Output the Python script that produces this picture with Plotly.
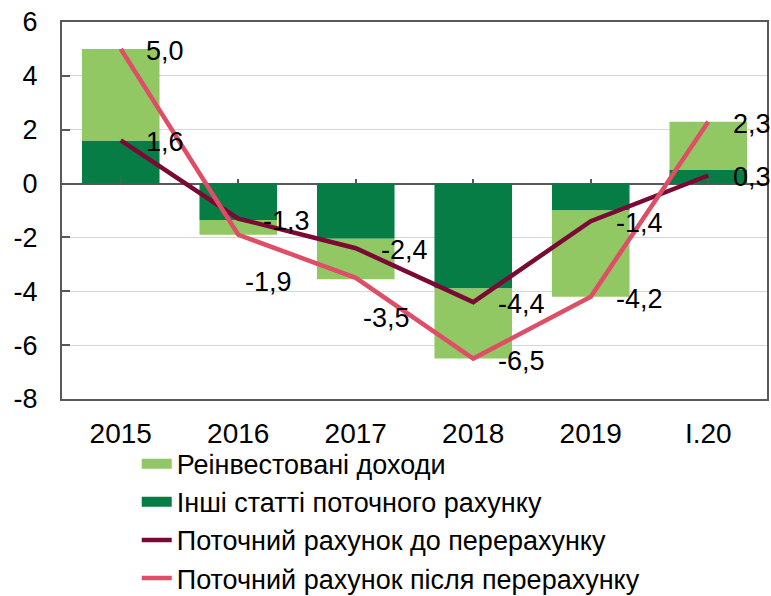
import plotly.graph_objects as go

# ---- data ----
categories = ["2015", "2016", "2017", "2018", "2019", "I.20"]
reinvested_income = [3.4, -0.55, -1.5, -2.6, -3.2, 1.8]      # Реінвестовані доходи
other_items = [1.6, -1.35, -2.05, -3.9, -1.0, 0.5]            # Інші статті поточного рахунку
ca_before = [1.6, -1.3, -2.4, -4.4, -1.4, 0.3]                # Поточний рахунок до перерахунку
ca_after = [5.0, -1.9, -3.5, -6.5, -4.2, 2.3]                 # Поточний рахунок після перерахунку
y_ticks = [-8, -6, -4, -2, 0, 2, 4, 6]
y_tick_labels = ["-8", "-6", "-4", "-2", "0", "2", "4", "6"]

names = ["Реінвестовані доходи", "Інші статті поточного рахунку",
         "Поточний рахунок до перерахунку", "Поточний рахунок після перерахунку"]

# ---- style ----
FONT = "Liberation Sans, Arial, sans-serif"
C_LIGHT = "#92C864"
C_DARK = "#077D46"
C_MAROON = "#7A0A35"
C_PINK = "#DE4E66"
AXIS = "#595959"

fig = go.Figure()
fig.add_trace(go.Bar(x=categories, y=other_items, name=names[1], marker_color=C_DARK,
                     marker_line_width=0, showlegend=False, legendgroup="other"))
fig.add_trace(go.Bar(x=categories, y=reinvested_income, name=names[0], marker_color=C_LIGHT,
                     marker_line_width=0, showlegend=False, legendgroup="reinv"))
# legend entries for the bars, drawn as wide swatches
fig.add_trace(go.Scatter(x=[None], y=[None], name=names[0], mode="lines",
                         line=dict(color=C_LIGHT, width=14), legendgroup="reinv", legendrank=1))
fig.add_trace(go.Scatter(x=[None], y=[None], name=names[1], mode="lines",
                         line=dict(color=C_DARK, width=14), legendgroup="other", legendrank=2))
fig.add_trace(go.Scatter(x=categories, y=ca_before, name=names[2], mode="lines",
                         line=dict(color=C_MAROON, width=4.5), legendrank=3))
fig.add_trace(go.Scatter(x=categories, y=ca_after, name=names[3], mode="lines",
                         line=dict(color=C_PINK, width=4.5), legendrank=4))
# invisible helper trace for tick marks on the zero axis
fig.add_trace(go.Scatter(x=categories, y=[0] * len(categories), xaxis="x2", mode="lines",
                         line=dict(width=0), showlegend=False, hoverinfo="skip"))

def fmt(v):
    return f"{v:.1f}".replace(".", ",")

# label offsets (style): (xshift, yshift)
before_off = [(23, -2)] * 6
after_off = [(23, -2), (5, -47), (5, -40), (23, -2), (23, -2), (23, -2)]
for series, offs in ((ca_before, before_off), (ca_after, after_off)):
    for i, (v, (dx, dy)) in enumerate(zip(series, offs)):
        fig.add_annotation(x=i, y=v, text=fmt(v), showarrow=False, xanchor="left",
                           yanchor="middle", xshift=dx, yshift=dy,
                           font=dict(family=FONT, size=27, color="#000000"))

fig.update_layout(
    width=771, height=596,
    margin=dict(l=62, r=4, t=22, b=197, autoexpand=False),
    paper_bgcolor="white", plot_bgcolor="white",
    barmode="relative", bargap=0.34,
    font=dict(family=FONT, size=27, color="#000000"),
    showlegend=True,
    legend=dict(x=0.106, y=-0.108, xanchor="left", yanchor="top", orientation="v",
                font=dict(family=FONT, size=27, color="#000000"),
                tracegroupgap=0, bgcolor="rgba(0,0,0,0)", itemclick=False),
    xaxis=dict(type="category", range=[-0.5, 5.5], showline=True, linecolor=AXIS, linewidth=2,
               mirror=True, showgrid=False, ticks="", zeroline=False,
               tickfont=dict(family=FONT, size=28), ticklabelstandoff=8),
    xaxis2=dict(type="category", range=[-0.5, 5.5], overlaying="x", anchor="free",
                position=8 / 14, showline=False, showgrid=False, showticklabels=False,
                ticks="inside", ticklen=5, tickwidth=1.5, tickcolor=AXIS, zeroline=False),
    yaxis=dict(range=[-8, 6], tickmode="array", tickvals=y_ticks, ticktext=y_tick_labels,
               showline=True, linecolor=AXIS, linewidth=2,
               mirror=True, showgrid=True, gridcolor="#D3D6DA", gridwidth=1,
               zeroline=True, zerolinecolor=AXIS, zerolinewidth=2,
               ticks="inside", ticklen=8, tickwidth=1.5, tickcolor=AXIS,
               tickfont=dict(family=FONT, size=27), ticklabelstandoff=17),
)

fig.write_html("out.html", config={"displayModeBar": False},
               post_script="document.body.style.margin='0';document.body.style.overflow='hidden';")
